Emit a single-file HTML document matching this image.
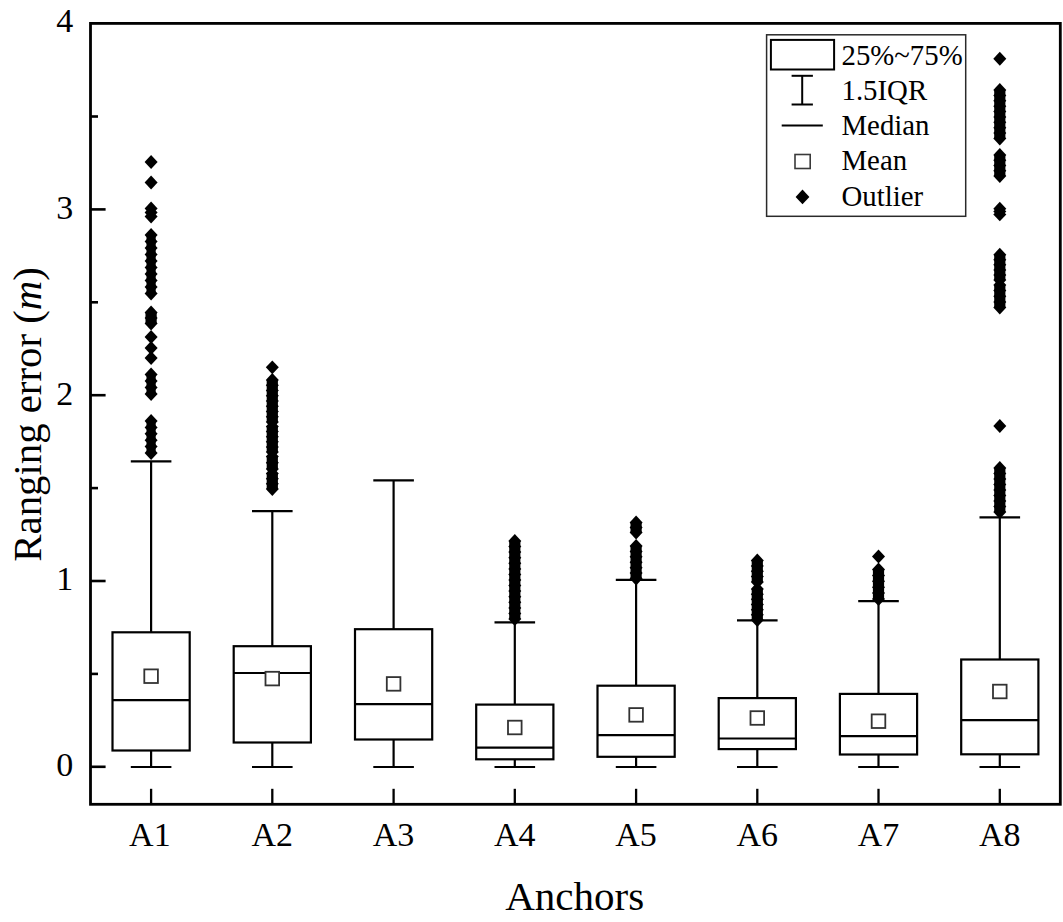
<!DOCTYPE html>
<html><head><meta charset="utf-8"><title>Ranging error box plot</title>
<style>html,body{margin:0;padding:0;background:#fff;}body{width:1063px;height:922px;overflow:hidden;font-family:"Liberation Serif",serif;}svg{display:block;}</style>
</head><body>
<svg width="1063" height="922" viewBox="0 0 1063 922">
<rect width="1063" height="922" fill="#fff"/>
<rect x="90.5" y="23.4" width="969.8" height="780.9" fill="none" stroke="#000" stroke-width="2.8"/>
<line x1="90.5" y1="766.8" x2="105.6" y2="766.8" stroke="#000" stroke-width="2.6"/>
<line x1="90.5" y1="581.0" x2="105.6" y2="581.0" stroke="#000" stroke-width="2.6"/>
<line x1="90.5" y1="395.2" x2="105.6" y2="395.2" stroke="#000" stroke-width="2.6"/>
<line x1="90.5" y1="209.4" x2="105.6" y2="209.4" stroke="#000" stroke-width="2.6"/>
<line x1="90.5" y1="673.9" x2="98" y2="673.9" stroke="#000" stroke-width="2.6"/>
<line x1="90.5" y1="488.1" x2="98" y2="488.1" stroke="#000" stroke-width="2.6"/>
<line x1="90.5" y1="302.3" x2="98" y2="302.3" stroke="#000" stroke-width="2.6"/>
<line x1="90.5" y1="116.5" x2="98" y2="116.5" stroke="#000" stroke-width="2.6"/>
<line x1="151.1" y1="804.3" x2="151.1" y2="788.8" stroke="#000" stroke-width="2.3"/>
<line x1="272.3" y1="804.3" x2="272.3" y2="788.8" stroke="#000" stroke-width="2.3"/>
<line x1="393.6" y1="804.3" x2="393.6" y2="788.8" stroke="#000" stroke-width="2.3"/>
<line x1="514.8" y1="804.3" x2="514.8" y2="788.8" stroke="#000" stroke-width="2.3"/>
<line x1="636.1" y1="804.3" x2="636.1" y2="788.8" stroke="#000" stroke-width="2.3"/>
<line x1="757.3" y1="804.3" x2="757.3" y2="788.8" stroke="#000" stroke-width="2.3"/>
<line x1="878.5" y1="804.3" x2="878.5" y2="788.8" stroke="#000" stroke-width="2.3"/>
<line x1="999.8" y1="804.3" x2="999.8" y2="788.8" stroke="#000" stroke-width="2.3"/>
<g stroke="#000" stroke-width="2.2" fill="none"><line x1="151.1" y1="461.3" x2="151.1" y2="632.3"/><line x1="151.1" y1="750.5" x2="151.1" y2="767.0"/><line x1="130.8" y1="461.3" x2="171.4" y2="461.3"/><line x1="130.8" y1="767.0" x2="171.4" y2="767.0"/><rect x="112.5" y="632.3" width="77.2" height="118.2" fill="#fff"/><line x1="112.5" y1="700.2" x2="189.7" y2="700.2"/></g>
<rect x="144.3" y="669.4" width="13.6" height="13.6" fill="#fff" stroke="#333" stroke-width="1.8"/>
<g fill="#000"><path d="M151.1 155.1L157.6 162.0L151.1 168.9L144.6 162.0Z"/><path d="M151.1 175.6L157.6 182.5L151.1 189.4L144.6 182.5Z"/><path d="M151.1 201.6L157.6 208.5L151.1 215.4L144.6 208.5Z"/><path d="M151.1 205.6L157.6 212.5L151.1 219.4L144.6 212.5Z"/><path d="M151.1 209.6L157.6 216.5L151.1 223.4L144.6 216.5Z"/><path d="M151.1 228.1L157.6 235.0L151.1 241.9L144.6 235.0Z"/><path d="M151.1 234.6L157.6 241.5L151.1 248.4L144.6 241.5Z"/><path d="M151.1 241.1L157.6 248.0L151.1 254.9L144.6 248.0Z"/><path d="M151.1 247.6L157.6 254.5L151.1 261.4L144.6 254.5Z"/><path d="M151.1 254.1L157.6 261.0L151.1 267.9L144.6 261.0Z"/><path d="M151.1 260.6L157.6 267.5L151.1 274.4L144.6 267.5Z"/><path d="M151.1 267.1L157.6 274.0L151.1 280.9L144.6 274.0Z"/><path d="M151.1 273.6L157.6 280.5L151.1 287.4L144.6 280.5Z"/><path d="M151.1 280.1L157.6 287.0L151.1 293.9L144.6 287.0Z"/><path d="M151.1 286.6L157.6 293.5L151.1 300.4L144.6 293.5Z"/><rect x="146.5" y="235.0" width="9.2" height="58.5"/><path d="M151.1 305.6L157.6 312.5L151.1 319.4L144.6 312.5Z"/><path d="M151.1 311.1L157.6 318.0L151.1 324.9L144.6 318.0Z"/><path d="M151.1 316.6L157.6 323.5L151.1 330.4L144.6 323.5Z"/><rect x="145.5" y="312.5" width="11.2" height="11.0"/><path d="M151.1 330.1L157.6 337.0L151.1 343.9L144.6 337.0Z"/><path d="M151.1 341.1L157.6 348.0L151.1 354.9L144.6 348.0Z"/><path d="M151.1 351.1L157.6 358.0L151.1 364.9L144.6 358.0Z"/><path d="M151.1 367.6L157.6 374.5L151.1 381.4L144.6 374.5Z"/><path d="M151.1 374.1L157.6 381.0L151.1 387.9L144.6 381.0Z"/><path d="M151.1 380.6L157.6 387.5L151.1 394.4L144.6 387.5Z"/><path d="M151.1 387.1L157.6 394.0L151.1 400.9L144.6 394.0Z"/><rect x="146.5" y="374.5" width="9.2" height="19.5"/><path d="M151.1 414.1L157.6 421.0L151.1 427.9L144.6 421.0Z"/><path d="M151.1 420.4L157.6 427.4L151.1 434.3L144.6 427.4Z"/><path d="M151.1 426.9L157.6 433.8L151.1 440.8L144.6 433.8Z"/><path d="M151.1 433.2L157.6 440.2L151.1 447.1L144.6 440.2Z"/><path d="M151.1 439.7L157.6 446.6L151.1 453.6L144.6 446.6Z"/><path d="M151.1 446.1L157.6 453.0L151.1 459.9L144.6 453.0Z"/><rect x="146.5" y="421.0" width="9.2" height="32.0"/></g>
<g stroke="#000" stroke-width="2.2" fill="none"><line x1="272.3" y1="511.1" x2="272.3" y2="646.2"/><line x1="272.3" y1="742.5" x2="272.3" y2="767.0"/><line x1="252.0" y1="511.1" x2="292.6" y2="511.1"/><line x1="252.0" y1="767.0" x2="292.6" y2="767.0"/><rect x="233.7" y="646.2" width="77.2" height="96.3" fill="#fff"/><line x1="233.7" y1="673.0" x2="310.9" y2="673.0"/></g>
<rect x="265.5" y="671.8" width="13.6" height="13.6" fill="#fff" stroke="#333" stroke-width="1.8"/>
<g fill="#000"><path d="M272.3 360.4L278.8 367.3L272.3 374.2L265.8 367.3Z"/><path d="M272.3 373.1L278.8 380.0L272.3 386.9L265.8 380.0Z"/><path d="M272.3 378.3L278.8 385.2L272.3 392.2L265.8 385.2Z"/><path d="M272.3 383.6L278.8 390.5L272.3 397.4L265.8 390.5Z"/><path d="M272.3 388.8L278.8 395.8L272.3 402.7L265.8 395.8Z"/><path d="M272.3 394.1L278.8 401.0L272.3 407.9L265.8 401.0Z"/><path d="M272.3 399.3L278.8 406.2L272.3 413.2L265.8 406.2Z"/><path d="M272.3 404.6L278.8 411.5L272.3 418.4L265.8 411.5Z"/><path d="M272.3 409.8L278.8 416.8L272.3 423.7L265.8 416.8Z"/><path d="M272.3 415.1L278.8 422.0L272.3 428.9L265.8 422.0Z"/><rect x="266.7" y="380.0" width="11.2" height="42.0"/><path d="M272.3 419.6L278.8 426.5L272.3 433.4L265.8 426.5Z"/><path d="M272.3 424.7L278.8 431.6L272.3 438.6L265.8 431.6Z"/><path d="M272.3 429.8L278.8 436.7L272.3 443.6L265.8 436.7Z"/><path d="M272.3 434.9L278.8 441.8L272.3 448.8L265.8 441.8Z"/><path d="M272.3 439.9L278.8 446.9L272.3 453.8L265.8 446.9Z"/><path d="M272.3 445.1L278.8 452.0L272.3 458.9L265.8 452.0Z"/><rect x="266.7" y="426.5" width="11.2" height="25.5"/><path d="M272.3 449.6L278.8 456.5L272.3 463.4L265.8 456.5Z"/><path d="M272.3 455.8L278.8 462.8L272.3 469.7L265.8 462.8Z"/><path d="M272.3 462.1L278.8 469.0L272.3 475.9L265.8 469.0Z"/><rect x="266.7" y="456.5" width="11.2" height="12.5"/><path d="M272.3 466.6L278.8 473.5L272.3 480.4L265.8 473.5Z"/><path d="M272.3 471.7L278.8 478.7L272.3 485.6L265.8 478.7Z"/><path d="M272.3 476.9L278.8 483.8L272.3 490.8L265.8 483.8Z"/><path d="M272.3 482.1L278.8 489.0L272.3 495.9L265.8 489.0Z"/><rect x="266.7" y="473.5" width="11.2" height="15.5"/></g>
<g stroke="#000" stroke-width="2.2" fill="none"><line x1="393.6" y1="480.3" x2="393.6" y2="629.2"/><line x1="393.6" y1="739.5" x2="393.6" y2="767.0"/><line x1="373.3" y1="480.3" x2="413.9" y2="480.3"/><line x1="373.3" y1="767.0" x2="413.9" y2="767.0"/><rect x="355.0" y="629.2" width="77.2" height="110.3" fill="#fff"/><line x1="355.0" y1="704.2" x2="432.2" y2="704.2"/></g>
<rect x="386.8" y="677.1" width="13.6" height="13.6" fill="#fff" stroke="#333" stroke-width="1.8"/>
<g stroke="#000" stroke-width="2.2" fill="none"><line x1="514.8" y1="622.4" x2="514.8" y2="704.6"/><line x1="514.8" y1="759.3" x2="514.8" y2="767.0"/><line x1="494.5" y1="622.4" x2="535.1" y2="622.4"/><line x1="494.5" y1="767.0" x2="535.1" y2="767.0"/><rect x="476.2" y="704.6" width="77.2" height="54.7" fill="#fff"/><line x1="476.2" y1="747.6" x2="553.4" y2="747.6"/></g>
<rect x="508.0" y="720.7" width="13.6" height="13.6" fill="#fff" stroke="#333" stroke-width="1.8"/>
<g fill="#000"><path d="M514.8 534.0L521.3 541.0L514.8 548.0L508.3 541.0Z"/><path d="M514.8 539.6L521.3 546.6L514.8 553.5L508.3 546.6Z"/><path d="M514.8 545.2L521.3 552.1L514.8 559.1L508.3 552.1Z"/><path d="M514.8 550.8L521.3 557.7L514.8 564.7L508.3 557.7Z"/><path d="M514.8 556.3L521.3 563.3L514.8 570.2L508.3 563.3Z"/><path d="M514.8 561.9L521.3 568.9L514.8 575.8L508.3 568.9Z"/><path d="M514.8 567.5L521.3 574.4L514.8 581.4L508.3 574.4Z"/><path d="M514.8 573.0L521.3 580.0L514.8 587.0L508.3 580.0Z"/><path d="M514.8 578.6L521.3 585.6L514.8 592.5L508.3 585.6Z"/><path d="M514.8 584.2L521.3 591.1L514.8 598.1L508.3 591.1Z"/><path d="M514.8 589.8L521.3 596.7L514.8 603.7L508.3 596.7Z"/><path d="M514.8 595.3L521.3 602.3L514.8 609.2L508.3 602.3Z"/><path d="M514.8 600.9L521.3 607.9L514.8 614.8L508.3 607.9Z"/><path d="M514.8 606.5L521.3 613.4L514.8 620.4L508.3 613.4Z"/><path d="M514.8 612.0L521.3 619.0L514.8 626.0L508.3 619.0Z"/><rect x="509.2" y="541.0" width="11.2" height="78.0"/></g>
<g stroke="#000" stroke-width="2.2" fill="none"><line x1="636.1" y1="579.9" x2="636.1" y2="685.7"/><line x1="636.1" y1="756.8" x2="636.1" y2="767.0"/><line x1="615.8" y1="579.9" x2="656.4" y2="579.9"/><line x1="615.8" y1="767.0" x2="656.4" y2="767.0"/><rect x="597.5" y="685.7" width="77.2" height="71.1" fill="#fff"/><line x1="597.5" y1="735.2" x2="674.7" y2="735.2"/></g>
<rect x="629.3" y="708.1" width="13.6" height="13.6" fill="#fff" stroke="#333" stroke-width="1.8"/>
<g fill="#000"><path d="M636.1 515.5L642.6 522.5L636.1 529.5L629.6 522.5Z"/><path d="M636.1 520.5L642.6 527.5L636.1 534.5L629.6 527.5Z"/><path d="M636.1 525.5L642.6 532.5L636.1 539.5L629.6 532.5Z"/><rect x="630.5" y="522.5" width="11.2" height="10.0"/><path d="M636.1 539.0L642.6 546.0L636.1 553.0L629.6 546.0Z"/><path d="M636.1 544.5L642.6 551.4L636.1 558.4L629.6 551.4Z"/><path d="M636.1 549.9L642.6 556.8L636.1 563.8L629.6 556.8Z"/><path d="M636.1 555.3L642.6 562.2L636.1 569.2L629.6 562.2Z"/><path d="M636.1 560.7L642.6 567.7L636.1 574.6L629.6 567.7Z"/><path d="M636.1 566.1L642.6 573.1L636.1 580.0L629.6 573.1Z"/><path d="M636.1 571.5L642.6 578.5L636.1 585.5L629.6 578.5Z"/><rect x="630.5" y="546.0" width="11.2" height="32.5"/></g>
<g stroke="#000" stroke-width="2.2" fill="none"><line x1="757.3" y1="620.4" x2="757.3" y2="698.1"/><line x1="757.3" y1="749.1" x2="757.3" y2="767.0"/><line x1="737.0" y1="620.4" x2="777.6" y2="620.4"/><line x1="737.0" y1="767.0" x2="777.6" y2="767.0"/><rect x="718.7" y="698.1" width="77.2" height="51.0" fill="#fff"/><line x1="718.7" y1="738.5" x2="795.9" y2="738.5"/></g>
<rect x="750.5" y="711.2" width="13.6" height="13.6" fill="#fff" stroke="#333" stroke-width="1.8"/>
<g fill="#000"><path d="M757.3 553.5L763.8 560.5L757.3 567.5L750.8 560.5Z"/><path d="M757.3 558.9L763.8 565.9L757.3 572.8L750.8 565.9Z"/><path d="M757.3 564.3L763.8 571.2L757.3 578.2L750.8 571.2Z"/><path d="M757.3 569.7L763.8 576.6L757.3 583.6L750.8 576.6Z"/><path d="M757.3 575.0L763.8 582.0L757.3 589.0L750.8 582.0Z"/><rect x="751.7" y="560.5" width="11.2" height="21.5"/><path d="M757.3 582.0L763.8 589.0L757.3 596.0L750.8 589.0Z"/><path d="M757.3 587.2L763.8 594.2L757.3 601.1L750.8 594.2Z"/><path d="M757.3 592.4L763.8 599.3L757.3 606.3L750.8 599.3Z"/><path d="M757.3 597.5L763.8 604.5L757.3 611.5L750.8 604.5Z"/><path d="M757.3 602.7L763.8 609.7L757.3 616.6L750.8 609.7Z"/><path d="M757.3 607.9L763.8 614.8L757.3 621.8L750.8 614.8Z"/><path d="M757.3 613.0L763.8 620.0L757.3 627.0L750.8 620.0Z"/><rect x="751.7" y="589.0" width="11.2" height="31.0"/></g>
<g stroke="#000" stroke-width="2.2" fill="none"><line x1="878.5" y1="601.2" x2="878.5" y2="693.9"/><line x1="878.5" y1="754.5" x2="878.5" y2="767.0"/><line x1="858.2" y1="601.2" x2="898.8" y2="601.2"/><line x1="858.2" y1="767.0" x2="898.8" y2="767.0"/><rect x="839.9" y="693.9" width="77.2" height="60.6" fill="#fff"/><line x1="839.9" y1="736.2" x2="917.1" y2="736.2"/></g>
<rect x="871.7" y="714.4" width="13.6" height="13.6" fill="#fff" stroke="#333" stroke-width="1.8"/>
<g fill="#000"><path d="M878.5 549.5L885.0 556.5L878.5 563.5L872.0 556.5Z"/><path d="M878.5 562.5L885.0 569.5L878.5 576.5L872.0 569.5Z"/><path d="M878.5 568.4L885.0 575.4L878.5 582.4L872.0 575.4Z"/><path d="M878.5 574.3L885.0 581.3L878.5 588.2L872.0 581.3Z"/><path d="M878.5 580.2L885.0 587.2L878.5 594.2L872.0 587.2Z"/><path d="M878.5 586.1L885.0 593.1L878.5 600.1L872.0 593.1Z"/><path d="M878.5 592.0L885.0 599.0L878.5 606.0L872.0 599.0Z"/><rect x="872.9" y="569.5" width="11.2" height="29.5"/></g>
<g stroke="#000" stroke-width="2.2" fill="none"><line x1="999.8" y1="517.3" x2="999.8" y2="659.5"/><line x1="999.8" y1="754.3" x2="999.8" y2="767.0"/><line x1="979.5" y1="517.3" x2="1020.1" y2="517.3"/><line x1="979.5" y1="767.0" x2="1020.1" y2="767.0"/><rect x="961.2" y="659.5" width="77.2" height="94.8" fill="#fff"/><line x1="961.2" y1="720.1" x2="1038.4" y2="720.1"/></g>
<rect x="993.0" y="684.7" width="13.6" height="13.6" fill="#fff" stroke="#333" stroke-width="1.8"/>
<g fill="#000"><path d="M999.8 51.8L1006.3 58.7L999.8 65.7L993.3 58.7Z"/><path d="M999.8 83.0L1006.3 90.0L999.8 97.0L993.3 90.0Z"/><path d="M999.8 88.4L1006.3 95.4L999.8 102.3L993.3 95.4Z"/><path d="M999.8 93.8L1006.3 100.8L999.8 107.7L993.3 100.8Z"/><path d="M999.8 99.2L1006.3 106.2L999.8 113.1L993.3 106.2Z"/><path d="M999.8 104.6L1006.3 111.6L999.8 118.5L993.3 111.6Z"/><path d="M999.8 110.0L1006.3 116.9L999.8 123.9L993.3 116.9Z"/><path d="M999.8 115.4L1006.3 122.3L999.8 129.3L993.3 122.3Z"/><path d="M999.8 120.8L1006.3 127.7L999.8 134.7L993.3 127.7Z"/><path d="M999.8 126.2L1006.3 133.1L999.8 140.1L993.3 133.1Z"/><path d="M999.8 131.6L1006.3 138.5L999.8 145.4L993.3 138.5Z"/><rect x="994.2" y="90.0" width="11.2" height="48.5"/><path d="M999.8 148.1L1006.3 155.0L999.8 161.9L993.3 155.0Z"/><path d="M999.8 153.3L1006.3 160.2L999.8 167.2L993.3 160.2Z"/><path d="M999.8 158.6L1006.3 165.5L999.8 172.4L993.3 165.5Z"/><path d="M999.8 163.8L1006.3 170.8L999.8 177.7L993.3 170.8Z"/><path d="M999.8 169.1L1006.3 176.0L999.8 182.9L993.3 176.0Z"/><rect x="994.2" y="155.0" width="11.2" height="21.0"/><path d="M999.8 201.8L1006.3 208.7L999.8 215.6L993.3 208.7Z"/><path d="M999.8 204.6L1006.3 211.5L999.8 218.4L993.3 211.5Z"/><path d="M999.8 207.5L1006.3 214.4L999.8 221.3L993.3 214.4Z"/><path d="M999.8 247.8L1006.3 254.7L999.8 261.6L993.3 254.7Z"/><path d="M999.8 252.8L1006.3 259.8L999.8 266.7L993.3 259.8Z"/><path d="M999.8 257.9L1006.3 264.8L999.8 271.8L993.3 264.8Z"/><path d="M999.8 262.9L1006.3 269.9L999.8 276.8L993.3 269.9Z"/><path d="M999.8 268.0L1006.3 274.9L999.8 281.9L993.3 274.9Z"/><path d="M999.8 273.1L1006.3 280.0L999.8 286.9L993.3 280.0Z"/><rect x="994.2" y="254.7" width="11.2" height="25.3"/><path d="M999.8 278.1L1006.3 285.0L999.8 291.9L993.3 285.0Z"/><path d="M999.8 283.7L1006.3 290.6L999.8 297.6L993.3 290.6Z"/><path d="M999.8 289.4L1006.3 296.3L999.8 303.2L993.3 296.3Z"/><path d="M999.8 295.0L1006.3 302.0L999.8 308.9L993.3 302.0Z"/><path d="M999.8 300.7L1006.3 307.6L999.8 314.6L993.3 307.6Z"/><rect x="994.2" y="285.0" width="11.2" height="22.6"/><path d="M999.8 419.1L1006.3 426.0L999.8 432.9L993.3 426.0Z"/><path d="M999.8 461.1L1006.3 468.0L999.8 474.9L993.3 468.0Z"/><path d="M999.8 466.6L1006.3 473.5L999.8 480.4L993.3 473.5Z"/><path d="M999.8 472.1L1006.3 479.0L999.8 485.9L993.3 479.0Z"/><path d="M999.8 477.6L1006.3 484.5L999.8 491.4L993.3 484.5Z"/><path d="M999.8 483.1L1006.3 490.0L999.8 496.9L993.3 490.0Z"/><path d="M999.8 488.6L1006.3 495.5L999.8 502.4L993.3 495.5Z"/><path d="M999.8 494.1L1006.3 501.0L999.8 507.9L993.3 501.0Z"/><path d="M999.8 499.6L1006.3 506.5L999.8 513.5L993.3 506.5Z"/><path d="M999.8 505.1L1006.3 512.0L999.8 519.0L993.3 512.0Z"/><rect x="994.2" y="468.0" width="11.2" height="44.0"/></g>
<rect x="766.6" y="34.8" width="199.1" height="181.5" fill="#fff" stroke="#2a2a2a" stroke-width="1.5"/>
<rect x="770.9" y="39.9" width="63.2" height="29.6" fill="none" stroke="#000" stroke-width="2"/>
<g stroke="#000" stroke-width="2"><line x1="791.6" y1="75.8" x2="812.9" y2="75.8"/><line x1="791.6" y1="104.5" x2="812.9" y2="104.5"/><line x1="802.2" y1="75.8" x2="802.2" y2="104.5"/><line x1="781.7" y1="125.4" x2="822.8" y2="125.4"/></g>
<rect x="795" y="154.5" width="15.2" height="14" fill="#fff" stroke="#3a3a3a" stroke-width="1.6"/>
<g fill="#000"><path d="M802.5 189.6L809.4 196.9L802.5 204.2L795.6 196.9Z"/></g>
<text x="841.5" y="64.6" font-family="Liberation Serif" font-size="28.8" fill="#000">25%~75%</text>
<text x="841.5" y="99.5" font-family="Liberation Serif" font-size="28.8" fill="#000">1.5IQR</text>
<text x="841.5" y="134.7" font-family="Liberation Serif" font-size="28.8" fill="#000">Median</text>
<text x="841.5" y="170.3" font-family="Liberation Serif" font-size="28.8" fill="#000">Mean</text>
<text x="841.5" y="205.8" font-family="Liberation Serif" font-size="28.8" fill="#000">Outlier</text>
<text x="73.2" y="776.2" text-anchor="end" font-family="Liberation Serif" font-size="34" fill="#000">0</text>
<text x="73.2" y="590.4" text-anchor="end" font-family="Liberation Serif" font-size="34" fill="#000">1</text>
<text x="73.2" y="404.6" text-anchor="end" font-family="Liberation Serif" font-size="34" fill="#000">2</text>
<text x="73.2" y="218.8" text-anchor="end" font-family="Liberation Serif" font-size="34" fill="#000">3</text>
<text x="73.2" y="32.2" text-anchor="end" font-family="Liberation Serif" font-size="34" fill="#000">4</text>
<text x="149.9" y="845.6" text-anchor="middle" font-family="Liberation Serif" font-size="34" fill="#000">A1</text>
<text x="272.3" y="845.6" text-anchor="middle" font-family="Liberation Serif" font-size="34" fill="#000">A2</text>
<text x="393.6" y="845.6" text-anchor="middle" font-family="Liberation Serif" font-size="34" fill="#000">A3</text>
<text x="514.8" y="845.6" text-anchor="middle" font-family="Liberation Serif" font-size="34" fill="#000">A4</text>
<text x="636.1" y="845.6" text-anchor="middle" font-family="Liberation Serif" font-size="34" fill="#000">A5</text>
<text x="757.3" y="845.6" text-anchor="middle" font-family="Liberation Serif" font-size="34" fill="#000">A6</text>
<text x="878.5" y="845.6" text-anchor="middle" font-family="Liberation Serif" font-size="34" fill="#000">A7</text>
<text x="999.8" y="845.6" text-anchor="middle" font-family="Liberation Serif" font-size="34" fill="#000">A8</text>
<text x="574.7" y="910" text-anchor="middle" font-family="Liberation Serif" font-size="41" fill="#000">Anchors</text>
<text transform="translate(40.7 414.4) rotate(-90)" x="0" y="0" text-anchor="middle" font-family="Liberation Serif" font-size="40.8" fill="#000">Ranging error (<tspan font-style="italic">m</tspan>)</text>
</svg>
</body></html>
